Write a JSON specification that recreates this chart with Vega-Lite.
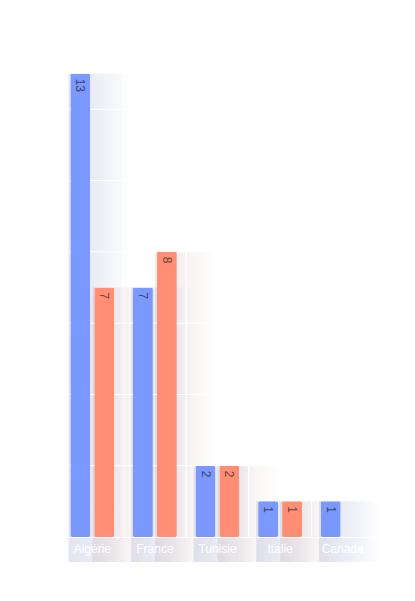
{
  "$schema": "https://vega.github.io/schema/vega-lite/v6.json",
  "autosize": {"type": "none"},
  "padding": {"left": 61, "top": 38, "right": 41, "bottom": 64},
  "width": 313,
  "height": 499,
  "background": "white",
  "config": {"view": {"stroke": null}, "font": "Liberation Sans"},
  "datasets": {
    "counts": [
      {"country": "Algérie", "series": "a", "value": 13},
      {"country": "Algérie", "series": "b", "value": 7},
      {"country": "France", "series": "a", "value": 7},
      {"country": "France", "series": "b", "value": 8},
      {"country": "Tunisie", "series": "a", "value": 2},
      {"country": "Tunisie", "series": "b", "value": 2},
      {"country": "Italie", "series": "a", "value": 1},
      {"country": "Italie", "series": "b", "value": 1},
      {"country": "Canada", "series": "a", "value": 1}
    ],
    "grid": [
      {"tick": 2}, {"tick": 4}, {"tick": 6}, {"tick": 8},
      {"tick": 10}, {"tick": 12}, {"tick": 14}
    ]
  },
  "data": {"name": "counts"},
  "resolve": {"scale": {"xOffset": "independent"}},
  "encoding": {
    "x": {
      "field": "country",
      "type": "nominal",
      "sort": null,
      "scale": {"paddingInner": 0, "paddingOuter": 0},
      "axis": {
        "title": null,
        "labelAngle": 0,
        "labelColor": "white",
        "labelFontSize": 12,
        "labelPadding": 6,
        "ticks": false,
        "grid": false,
        "domainColor": "white",
        "zindex": 1
      }
    },
    "y": {
      "field": "value",
      "type": "quantitative",
      "scale": {"domain": [0, 14], "nice": false},
      "axis": null
    }
  },
  "layer": [
    {
      "transform": [{"filter": "datum.series == 'a'"}],
      "mark": {
        "type": "bar",
        "width": 62,
        "color": {
          "gradient": "linear",
          "x1": 0, "y1": 0, "x2": 1, "y2": 0,
          "stops": [
            {"offset": 0, "color": "rgba(70,90,170,0.15)"},
            {"offset": 0.33, "color": "rgba(70,90,170,0.13)"},
            {"offset": 1, "color": "rgba(70,90,170,0)"}
          ]
        }
      },
      "encoding": {
        "xOffset": {
          "field": "series",
          "type": "nominal",
          "scale": {"type": "band", "domain": ["a", "b"], "paddingInner": 0.99, "paddingOuter": 0.8, "align": 1}
        },
        "y2": {"datum": -0.7}
      }
    },
    {
      "transform": [{"filter": "datum.series == 'b'"}],
      "mark": {
        "type": "bar",
        "width": 62,
        "color": {
          "gradient": "linear",
          "x1": 0, "y1": 0, "x2": 1, "y2": 0,
          "stops": [
            {"offset": 0, "color": "rgba(150,90,80,0.12)"},
            {"offset": 0.33, "color": "rgba(150,90,80,0.1)"},
            {"offset": 1, "color": "rgba(150,90,80,0)"}
          ]
        }
      },
      "encoding": {
        "xOffset": {
          "field": "series",
          "type": "nominal",
          "scale": {"type": "band", "domain": ["a", "b"], "paddingInner": 0.99, "paddingOuter": 0.8, "align": 1}
        },
        "y2": {"datum": -0.7}
      }
    },
    {
      "data": {"name": "grid"},
      "mark": {"type": "rule", "color": "white", "strokeWidth": 1},
      "encoding": {
        "x": null,
        "y": {"field": "tick", "type": "quantitative"}
      }
    },
    {
      "mark": {"type": "rule", "color": "white", "strokeWidth": 1},
      "encoding": {
        "x": {"field": "country", "type": "nominal", "sort": null, "bandPosition": 0},
        "y": null
      }
    },
    {
      "mark": {"type": "bar", "cornerRadius": 2},
      "encoding": {
        "xOffset": {
          "field": "series",
          "type": "nominal",
          "scale": {"type": "band", "domain": ["a", "b"], "paddingInner": 0.167, "paddingOuter": 0.39}
        },
        "color": {
          "field": "series",
          "type": "nominal",
          "scale": {"domain": ["a", "b"], "range": ["#7b98ff", "#ff8e74"]},
          "legend": null
        }
      }
    },
    {
      "mark": {
        "type": "text",
        "angle": 90,
        "align": "left",
        "baseline": "middle",
        "dx": 5,
        "fontSize": 12,
        "color": "#222",
        "opacity": 0.7
      },
      "encoding": {
        "xOffset": {
          "field": "series",
          "type": "nominal",
          "scale": {"type": "band", "domain": ["a", "b"], "paddingInner": 0.167, "paddingOuter": 0.39}
        },
        "text": {"field": "value", "type": "quantitative"}
      }
    }
  ]
}
